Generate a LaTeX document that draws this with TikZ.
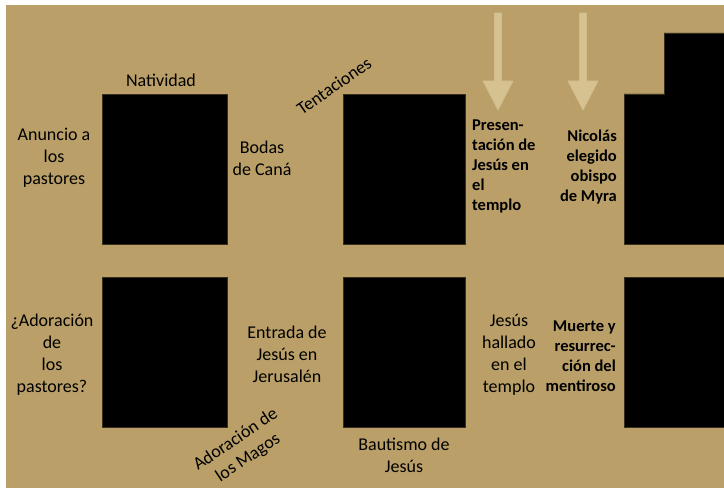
\documentclass[tikz,border=0pt]{standalone}
\usepackage{fontspec}
\setmainfont{Carlito}
\definecolor{tan}{RGB}{186,160,104}
\definecolor{arrowtan}{RGB}{214,193,145}
\tikzset{
  lbl/.style={inner sep=0pt, align=center, text=black, font=\fontsize{18bp}{22bp}\selectfont},
  blbl/.style={inner sep=0pt, text=black, font=\bfseries\fontsize{16.5bp}{20bp}\selectfont},
  panel/.style={fill=black, draw=black!70!tan, line width=0.6bp},
  downarrow/.style={fill=arrowtan, draw=arrowtan!85!tan, line width=0.8bp, line join=round}
}
\begin{document}
\begin{tikzpicture}[x=1bp,y=-1bp]
\useasboundingbox (0,0) rectangle (724,488);
\fill[white] (0,0) rectangle (724,488);
\fill[tan] (6,5) rectangle (724,488);

% panels
\draw[panel] (102,94) rectangle (227,244);
\draw[panel] (343,94) rectangle (465,244);
\draw[panel] (724,33) -- (664,33) -- (664,94) -- (624,94) -- (624,244) -- (724,244);
\draw[panel] (102,277) rectangle (227,427);
\draw[panel] (343,277) rectangle (465,427);
\draw[panel] (724,277) -- (624,277) -- (624,427) -- (724,427);

% arrows
\draw[downarrow] (494.5,13) -- (501.5,13) -- (501.5,81) -- (513,81) -- (498,110) -- (483,81) -- (494.5,81) -- cycle;
\draw[downarrow] (579.5,13) -- (586.5,13) -- (586.5,81) -- (598,81) -- (583,110) -- (568,81) -- (579.5,81) -- cycle;

% labels, top row
\node[lbl] (nat) at (161,80) {Natividad};
\node[lbl] (anu) at (54,158) {Anuncio a\\los\\pastores};
\node[lbl] (bod) at (262,158) {Bodas\\de Caná};
\node[lbl, rotate=35] (ten) at (334,86) {Tentaciones};
\node[blbl, align=left, anchor=west] (pre) at (472,166) {Presen-\\tación de\\Jesús en\\el\\templo};
\node[blbl, align=right, anchor=east] (nic) at (617,167) {Nicolás\\elegido\\obispo\\de Myra};

% labels, bottom row
\node[lbl] (ado) at (52,355) {¿Adoración\\de\\los\\pastores?};
\node[lbl] (ent) at (287,354) {Entrada de\\Jesús en\\Jerusalén};
\node[lbl, rotate=34] (mag) at (242,449) {Adoración de\\los Magos};
\node[lbl] (bau) at (404,455) {Bautismo de\\Jesús};
\node[lbl] (hal) at (509,355) {Jesús\\hallado\\en el\\templo};
\node[blbl, align=right, anchor=east] (mue) at (616,356) {Muerte y\\resurrec-\\ción del\\mentiroso};
\end{tikzpicture}
\end{document}
